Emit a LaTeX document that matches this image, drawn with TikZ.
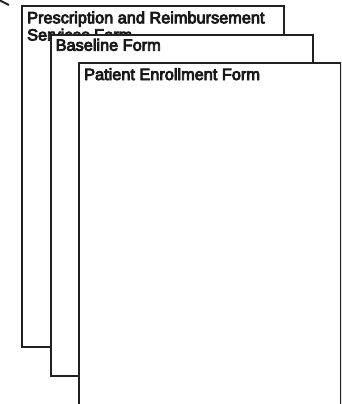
\documentclass[tikz,border=0pt]{standalone}
\usepackage{fontspec}
\setmainfont{Liberation Sans}
\newcommand\heavytext[1]{\special{pdf:literal 2 Tr 0.8 w}#1\special{pdf:literal 0 Tr}}
\begin{document}
\begin{tikzpicture}[x=1pt,y=-1pt,
  formbox/.style={draw=black!87,line width=2pt,fill=white},
  formtitle/.style={anchor=base west,inner sep=0pt,font=\fontsize{16.3}{17}\selectfont,text=black!90}]
\useasboundingbox (0,0) rectangle (341,404);
\begin{scope}
\clip (0,0) rectangle (341,404);
\coordinate (t1) at (0,0.5);
\coordinate (t2) at (9,5);
\draw[line width=2pt,black!87] (t1) -- (t2);
\draw[formbox] (22,6) rectangle (284,347);
\node[formtitle] (back1) at (27,23.3) {\heavytext{Prescription and Reimbursement}};
\node[formtitle] (back2) at (27,40.5) {\heavytext{Services Form}};
\draw[formbox] (51,35) rectangle (313,376);
\node[formtitle] (mid) at (55.5,50.7) {\heavytext{Baseline Form}};
\draw[formbox] (79,63) rectangle (341,404.5);
\node[formtitle] (front) at (84,80) {\heavytext{Patient Enrollment Form}};
\end{scope}
\end{tikzpicture}
\end{document}
